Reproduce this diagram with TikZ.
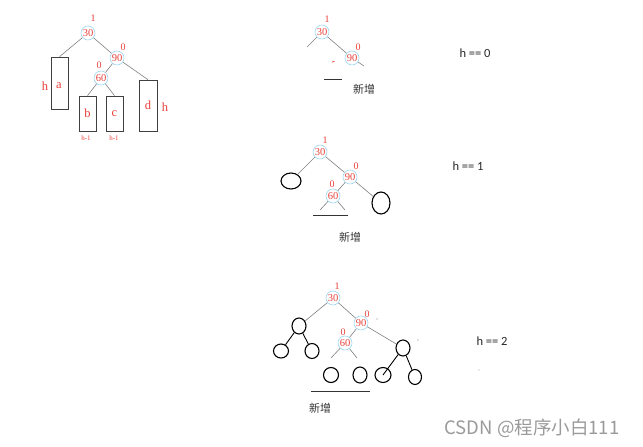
\documentclass[tikz,border=0pt]{standalone}
\usepackage{fontspec}
\setmainfont{Liberation Serif}
\newfontfamily\cjk{Noto Sans CJK SC}
\newfontfamily\sansf{Carlito}
\usetikzlibrary{shapes.geometric}
\definecolor{numred}{HTML}{E8403A}
\definecolor{ringblue}{HTML}{9ED6F0}
\definecolor{edgegray}{HTML}{808080}
\definecolor{wmgray}{HTML}{9A9A9A}
\begin{document}
\begin{tikzpicture}[x=1pt,y=-1pt,
  key/.style={circle, draw=ringblue, line width=0.6pt, minimum size=14pt, inner sep=0pt, text=numred, font=\fontsize{10.5}{10.5}\selectfont},
  bal/.style={text=numred, font=\fontsize{10}{10}\selectfont, inner sep=0pt},
  edge/.style={draw=edgegray, line width=0.6pt},
  subt/.style={ellipse, draw=black, line width=1.1pt, inner sep=0pt},
  box/.style={draw=black!75, line width=0.6pt, inner sep=0pt, text=numred, font=\fontsize{12.5}{12.5}\selectfont},
  redtxt/.style={text=numred, inner sep=0pt, font=\fontsize{12.5}{12.5}\selectfont},
  small/.style={text=numred, inner sep=0pt, font=\fontsize{7}{7}\selectfont},
  htext/.style={inner sep=0pt, font=\sansf\fontsize{12.5}{12.5}\selectfont, text=black!85},
  newtxt/.style={inner sep=0pt, font=\cjk\fontsize{11}{11}\selectfont, text=black!80},
  uline/.style={draw=black!80, line width=0.8pt}]
\useasboundingbox (0,0) rectangle (643,447);

% ---------- left tree ----------
\node[key] (a30) at (88,33) {30};
\node[key] (a90) at (117,58) {90};
\node[key] (a60) at (101,78) {60};
\node[bal] (a30b) at (93,18) {1};
\node[bal] (a90b) at (123,47) {0};
\node[bal] (a60b) at (99,65) {0};
\node[box, minimum width=17pt, minimum height=52pt] (boxa) at (59.5,83) {};
\node[redtxt] (la) at (59,86) {a};
\node[box, minimum width=17pt, minimum height=35pt] (boxb) at (87.5,113.5) {b};
\node[box, minimum width=17pt, minimum height=35pt] (boxc) at (114.5,113.5) {c};
\node[box, minimum width=18pt, minimum height=51pt] (boxd) at (148,105.5) {d};
\node[redtxt] (ha) at (45,86) {h};
\node[redtxt] (hd) at (165,107) {h};
\node[small] (hb) at (86,138) {h-1};
\node[small] (hc) at (114,138) {h-1};
\draw[edge] (a30) -- (boxa.north);
\draw[edge] (a30) -- (a90);
\draw[edge] (a90) -- (a60);
\draw[edge] (a90) -- (boxd.north);
\draw[edge] (a60) -- (boxb.north);
\draw[edge] (a60) -- (boxc.north);

% ---------- h == 0 ----------
\node[key] (t30) at (322,32) {30};
\node[key] (t90) at (352,58) {90};
\node[bal] (t30b) at (327,19) {1};
\node[bal] (t90b) at (358,47) {0};
\coordinate (tl) at (307,47);
\coordinate (tr) at (364,66);
\draw[edge] (t30) -- (tl);
\draw[edge] (t30) -- (t90);
\draw[edge] (t90) -- (tr);
\coordinate (td1) at (332,62);
\coordinate (td2) at (334.5,61.5);
\draw[numred, line width=0.8pt] (td1) -- (td2);
\coordinate (tu1) at (324,79);
\coordinate (tu2) at (342,79);
\draw[uline] (tu1) -- (tu2);
\node[newtxt] (tn) at (364,89) {新增};
\node[htext] (h0) at (475,53) {h == 0};

% ---------- h == 1 ----------
\node[key] (m30) at (320,152) {30};
\node[key] (m90) at (350,177) {90};
\node[key] (m60) at (333,196) {60};
\node[bal] (m30b) at (325,140) {1};
\node[bal] (m90b) at (356,166) {0};
\node[bal] (m60b) at (332,184) {0};
\node[subt, minimum width=20pt, minimum height=16pt] (mL) at (291,181) {};
\node[subt, minimum width=18pt, minimum height=22pt] (mR) at (381,203) {};
\coordinate (m60l) at (320,210);
\coordinate (m60r) at (345,210);
\draw[edge] (m30) -- (mL);
\draw[edge] (m30) -- (m90);
\draw[edge] (m90) -- (m60);
\draw[edge] (m90) -- (mR);
\draw[edge] (m60) -- (m60l);
\draw[edge] (m60) -- (m60r);
\coordinate (mu1) at (313,215);
\coordinate (mu2) at (348,215);
\draw[uline] (mu1) -- (mu2);
\node[newtxt] (mn) at (350,237) {新增};
\node[htext] (h1) at (468,166) {h == 1};

% ---------- h == 2 ----------
\node[key] (b30) at (333,298) {30};
\node[key] (b90) at (361,323) {90};
\node[key] (b60) at (345,343) {60};
\node[bal] (b30b) at (337,286) {1};
\node[bal] (b90b) at (367,314) {0};
\node[bal] (b60b) at (343,332) {0};
\node[subt, minimum width=14pt, minimum height=16pt] (bL) at (299,326) {};
\node[subt, minimum width=15pt, minimum height=14pt] (bL1) at (281,351) {};
\node[subt, minimum width=14pt, minimum height=15pt] (bL2) at (312,351) {};
\node[subt, minimum width=14pt, minimum height=16pt] (bR) at (403,348) {};
\node[subt, minimum width=16pt, minimum height=15pt] (bR1) at (383,375) {};
\node[subt, minimum width=13pt, minimum height=15pt] (bR2) at (415,377) {};
\node[subt, minimum width=15pt, minimum height=15pt] (bC1) at (331,375) {};
\node[subt, minimum width=14pt, minimum height=16pt] (bC2) at (360,375) {};
\coordinate (b60l) at (331,358);
\coordinate (b60r) at (357,358);
\draw[edge] (b30) -- (bL);
\draw[edge] (b30) -- (b90);
\draw[edge] (b90) -- (b60);
\draw[edge] (b90) -- (bR);
\draw[edge] (b60) -- (b60l);
\draw[edge] (b60) -- (b60r);
\draw[black, line width=0.9pt] (bL) -- (bL1);
\draw[black, line width=0.9pt] (bL) -- (bL2);
\draw[black, line width=0.9pt] (bR) -- (bR1.center);
\draw[black, line width=0.9pt] (bR) -- (bR2);
\node[circle, fill=edgegray, inner sep=0pt, minimum size=1.2pt] (dot1) at (377,319) {};
\node[circle, fill=edgegray, inner sep=0pt, minimum size=1.2pt] (dot2) at (418,340) {};
\node[circle, fill=edgegray!60, inner sep=0pt, minimum size=1.2pt] (dot3) at (479,370) {};
\coordinate (bu1) at (311,391);
\coordinate (bu2) at (370,391);
\draw[uline] (bu1) -- (bu2);
\node[newtxt] (bn) at (320,408) {新增};
\node[htext] (h2) at (492,341) {h == 2};

% ---------- watermark ----------
\node[inner sep=0pt, text=wmgray, font=\cjk\fontsize{18.5}{18.5}\selectfont] (wm) at (532,428) {CSDN @程序小白111};
\end{tikzpicture}
\end{document}
